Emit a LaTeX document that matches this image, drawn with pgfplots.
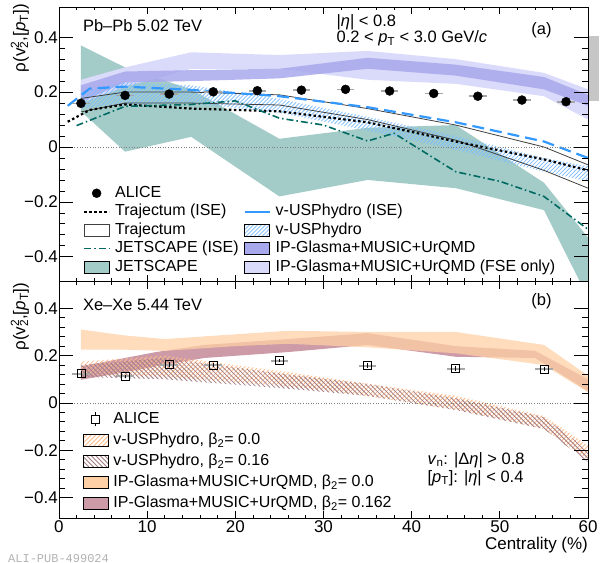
\documentclass[border=0pt]{standalone}
\usepackage{fontspec}
\setmainfont{Liberation Sans}
\setmonofont{Liberation Mono}
\usepackage{pgfplots}
\pgfplotsset{compat=1.18}
\usetikzlibrary{patterns}

\definecolor{jsfill}{RGB}{163,204,201}
\definecolor{jsline}{RGB}{0,105,98}
\definecolor{vusp}{RGB}{51,153,255}
\definecolor{vusph}{RGB}{125,188,255}
\definecolor{ipg}{RGB}{168,168,236}
\definecolor{ipgfse}{RGB}{218,218,250}
\definecolor{orng}{RGB}{255,208,165}
\definecolor{mauve}{RGB}{205,155,168}
\definecolor{orngh}{RGB}{255,188,140}
\definecolor{brownh}{RGB}{165,125,130}

% inherently coloured hatch patterns
\pgfdeclarepatterninherentlycolored{hVU}{\pgfqpoint{-1pt}{-1pt}}{\pgfqpoint{5pt}{5pt}}{\pgfqpoint{4pt}{4pt}}{%
  \pgfsetstrokecolor{vusph}\pgfsetlinewidth{0.7pt}%
  \pgfpathmoveto{\pgfqpoint{-0.1pt}{-0.1pt}}\pgfpathlineto{\pgfqpoint{4.1pt}{4.1pt}}\pgfusepath{stroke}}
\pgfdeclarepatterninherentlycolored{hOR}{\pgfqpoint{-1pt}{-1pt}}{\pgfqpoint{5.5pt}{5.5pt}}{\pgfqpoint{4.5pt}{4.5pt}}{%
  \pgfsetstrokecolor{orngh}\pgfsetlinewidth{0.8pt}%
  \pgfpathmoveto{\pgfqpoint{-0.1pt}{-0.1pt}}\pgfpathlineto{\pgfqpoint{4.6pt}{4.6pt}}\pgfusepath{stroke}}
\pgfdeclarepatterninherentlycolored{hBR}{\pgfqpoint{-1pt}{-1pt}}{\pgfqpoint{5.5pt}{5.5pt}}{\pgfqpoint{4.5pt}{4.5pt}}{%
  \pgfsetstrokecolor{brownh}\pgfsetlinewidth{0.8pt}%
  \pgfpathmoveto{\pgfqpoint{-0.1pt}{4.6pt}}\pgfpathlineto{\pgfqpoint{4.6pt}{-0.1pt}}\pgfusepath{stroke}}

\pgfplotsset{
 mystyle/.style={
   width=530pt, scale only axis, xmin=0, xmax=60,
   xtick={0,10,...,60}, minor x tick num=4,
   ytick={-0.4,-0.2,0,0.2,0.4}, minor y tick num=4,
   yticklabels={−0.4,−0.2,0,0.2,0.4},
   tick align=inside, major tick length=10pt, minor tick length=5pt,
   xtick style={/pgfplots/major tick length=7pt,/pgfplots/minor tick length=3.5pt},
   ytick style={/pgfplots/major tick length=14pt,/pgfplots/minor tick length=6pt},
   axis line style={line width=0.8pt},
   every tick/.style={black, line width=0.8pt},
   ticklabel style={font=\fontsize{17}{17}\selectfont},
   yticklabel style={inner sep=1pt},
   xticklabel style={inner sep=2.5pt},
   axis on top,
   legend cell align=left,
 },
 band/.style={legend image code/.code={\path[#1] (0pt,-6pt) rectangle (25pt,6pt);}},
 linelg/.style={legend image code/.code={\draw[#1] (0pt,0pt) -- (25pt,0pt);}},
}

\begin{document}
\begin{tikzpicture}
\begin{scope}[x=1pt,y=-1pt,shift={(-59pt,519pt)}]
\useasboundingbox (0,0) rectangle (600,557);
\end{scope}

% ---------------- top panel ----------------
\begin{axis}[mystyle,
  at={(0pt,237pt)}, anchor=south west, height=275pt,
  ymin=-0.49, ymax=0.51, xticklabels={},
  legend columns=2,
  legend style={at={(0.0396,0.356)}, anchor=north west, draw=none, fill=none,
    font=\fontsize{16}{18}\selectfont, row sep=4pt,
    nodes={inner sep=0pt, text height=11.5pt, text depth=3pt},
    /tikz/every odd column/.append style={column sep=5pt},
    /tikz/every even column/.append style={column sep=5pt}},
]
% JETSCAPE band
\addplot[forget plot, draw=none, fill=jsfill] coordinates {
 (2.5,0.37) (7.5,0.29) (15,0.21) (25,0.03) (35,0.07) (45,0.08) (55,-0.13) (60,-0.33) (65,-0.55)
 (65,-0.9) (60,-0.55) (55,-0.23) (45,-0.15) (35,-0.12) (25,-0.18) (15,0.037) (7.5,-0.017) (2.5,0.13)} -- cycle;
% IP-Glasma FSE only
\addplot[forget plot, draw=none, fill=ipgfse] coordinates {
 (2.5,0.245) (7.5,0.29) (15,0.345) (25,0.335) (35,0.35) (45,0.32) (55,0.27) (60,0.21)
 (60,0.10) (55,0.185) (45,0.23) (35,0.245) (25,0.285) (15,0.285) (7.5,0.22) (2.5,0.16)} -- cycle;
% IP-Glasma
\addplot[forget plot, draw=none, fill=ipg, fill opacity=0.85] coordinates {
 (2.5,0.225) (7.5,0.275) (15,0.28) (25,0.285) (35,0.325) (45,0.30) (55,0.255) (60,0.19)
 (60,0.15) (55,0.21) (45,0.26) (35,0.285) (25,0.25) (15,0.24) (7.5,0.235) (2.5,0.165)} -- cycle;
% v-USPhydro
\addplot[forget plot, draw=none, pattern=hVU] coordinates {
 (2.5,0.20) (7.5,0.235) (15,0.225) (25,0.175) (35,0.11) (45,0.04) (55,-0.04) (60,-0.07)
 (60,-0.125) (55,-0.09) (45,-0.01) (35,0.06) (25,0.125) (15,0.16) (7.5,0.155) (2.5,0.14)} -- cycle;
% Trajectum band outline
\addplot[forget plot, black!75, line width=0.8pt] coordinates {
 (2.5,0.177) (7.5,0.2) (15,0.2) (25,0.19) (35,0.14) (45,0.08) (55,0.0) (60,-0.065)};
\addplot[forget plot, black!75, line width=0.8pt] coordinates {
 (2.5,0.128) (7.5,0.16) (15,0.16) (25,0.153) (35,0.1) (45,0.025) (55,-0.085) (60,-0.15)};
% Trajectum (ISE)
\addplot[forget plot, black, line width=2.2pt, dash pattern=on 2.5pt off 2.5pt] coordinates {
 (1,0.092) (3.5,0.135) (7.5,0.155) (15,0.14) (25,0.13) (35,0.09) (45,0.02) (55,-0.045) (60,-0.085)};
% JETSCAPE (ISE)
\addplot[forget plot, jsline, line width=1.6pt, dash pattern=on 7pt off 3pt on 1.5pt off 3pt] coordinates {
 (2,0.078) (7.5,0.148) (15,0.155) (20,0.168) (25,0.105) (30,0.08) (35,0.022) (38,0.05) (45,-0.09) (50,-0.125) (55,-0.18) (60,-0.3)};
% v-USPhydro (ISE)
\addplot[forget plot, vusp, line width=2.2pt, dash pattern=on 12pt off 6pt] coordinates {
 (1,0.15) (3.5,0.213) (7.5,0.22) (15,0.208) (25,0.185) (35,0.145) (45,0.09) (55,0.02) (60,-0.04)};
% zero line
\addplot[forget plot, gray, dotted, line width=0.6pt] coordinates {(0,0) (60,0)};
% ALICE
\addplot[forget plot, only marks, mark=*, mark size=4.5pt, black,
  error bars/.cd, x dir=both, x explicit, error mark=none,
  error bar style={draw=gray!70, line width=1.6pt}] coordinates {
 (2.5,0.159) +- (1,0) (7.5,0.188) +- (1,0) (12.5,0.193) +- (1,0) (17.5,0.201) +- (1,0)
 (22.5,0.205) +- (1,0) (27.5,0.207) +- (1,0) (32.5,0.210) +- (1,0) (37.5,0.204) +- (1,0)
 (42.5,0.195) +- (1,0) (47.5,0.185) +- (1,0) (52.5,0.171) +- (1,0) (57.5,0.165) +- (1,0)};
% legend
\addlegendimage{legend image code/.code={\fill[black] (12.5pt,0pt) circle (4.5pt);}}
\addlegendentry{ALICE}
\addlegendimage{empty legend}
\addlegendentry{}
\addlegendimage{linelg={black, line width=2.2pt, dash pattern=on 2.5pt off 2.5pt}}
\addlegendentry{Trajectum (ISE)}
\addlegendimage{linelg={vusp, line width=2.2pt}}
\addlegendentry{v-USPhydro (ISE)}
\addlegendimage{band={draw=black!75, line width=0.8pt}}
\addlegendentry{Trajectum}
\addlegendimage{band={pattern=hVU}}
\addlegendentry{v-USPhydro}
\addlegendimage{linelg={jsline, line width=1.6pt, dash pattern=on 7pt off 3pt on 1.5pt off 3pt}}
\addlegendentry{JETSCAPE (ISE)}
\addlegendimage{band={fill=ipg}}
\addlegendentry{IP-Glasma+MUSIC+UrQMD}
\addlegendimage{band={fill=jsfill}}
\addlegendentry{JETSCAPE}
\addlegendimage{band={fill=ipgfse}}
\addlegendentry{IP-Glasma+MUSIC+UrQMD (FSE only)}
\end{axis}

% ---------------- bottom panel ----------------
\begin{axis}[mystyle,
  at={(0pt,0pt)}, anchor=south west, height=237pt,
  ymin=-0.487, ymax=0.513,
  xticklabels={0,10,20,30,40,50,60},
  legend style={at={(0.0396,0.458)}, anchor=north west, draw=none, fill=none,
    font=\fontsize{16}{18}\selectfont, row sep=6.5pt,
    nodes={inner sep=0pt, text height=11.5pt, text depth=3pt},
    /tikz/every odd column/.append style={column sep=5pt}},
]
% IP-Glasma beta 0.162
\addplot[forget plot, draw=none, fill=mauve] coordinates {
 (2.5,0.155) (7.5,0.19) (11,0.215) (16.5,0.245) (26,0.27) (35,0.295) (45,0.24) (54,0.22) (60,0.10)
 (60,0.05) (54,0.19) (45,0.195) (35,0.245) (26,0.215) (16.5,0.19) (11,0.155) (7.5,0.13) (2.5,0.098)} -- cycle;
% IP-Glasma beta 0
\addplot[forget plot, draw=none, fill=orng, fill opacity=0.75] coordinates {
 (2.5,0.31) (7.5,0.285) (12,0.27) (20,0.29) (26,0.305) (35,0.30) (45,0.30) (55,0.245) (60,0.115)
 (60,0.045) (55,0.16) (45,0.21) (35,0.235) (26,0.25) (20,0.24) (12,0.22) (7.5,0.225) (2.5,0.225)} -- cycle;
% v-USPhydro beta 0
\addplot[forget plot, draw=none, pattern=hOR] coordinates {
 (2.5,0.175) (12,0.20) (26,0.13) (30,0.108) (45,0.03) (55,-0.055) (60,-0.18)
 (60,-0.24) (55,-0.11) (45,-0.028) (30,0.056) (26,0.07) (12,0.112) (2.5,0.12)} -- cycle;
% v-USPhydro beta 0.16
\addplot[forget plot, draw=none, pattern=hBR] coordinates {
 (2.5,0.16) (12,0.19) (26,0.12) (35,0.08) (45,0.02) (55,-0.06) (60,-0.2)
 (60,-0.25) (55,-0.11) (45,-0.03) (35,0.03) (26,0.06) (12,0.10) (2.5,0.11)} -- cycle;
% zero line
\addplot[forget plot, gray, dotted, line width=0.6pt] coordinates {(0,0) (60,0)};
% ALICE Xe-Xe
\addplot[forget plot, draw=none, mark=none,
  error bars/.cd, x dir=both, x explicit, error mark=none,
  error bar style={draw=gray!70, line width=2pt}] coordinates {
 (2.5,0.123) +- (1,0) (7.5,0.112) +- (1,0) (12.5,0.161) +- (1,0) (17.5,0.160) +- (1,0)
 (25,0.179) +- (1,0) (35,0.158) +- (1,0) (45,0.144) +- (1,0) (55,0.143) +- (1,0)};
\addplot[forget plot, only marks, mark=square, mark size=4pt, black, mark options={line width=0.8pt},
  error bars/.cd, y dir=both, y explicit, error mark=none,
  error bar style={black, line width=0.6pt}] coordinates {
 (2.5,0.123) +- (0,0.012) (7.5,0.112) +- (0,0.008) (12.5,0.161) +- (0,0.01) (17.5,0.160) +- (0,0.01)
 (25,0.179) +- (0,0.008) (35,0.158) +- (0,0.01) (45,0.144) +- (0,0.01) (55,0.143) +- (0,0.01)};
% legend
\addlegendimage{legend image code/.code={\draw[black, line width=0.8pt] (8.5pt,-4pt) rectangle (16.5pt,4pt); \draw[black, line width=0.6pt] (12.5pt,-7pt)--(12.5pt,-4pt) (12.5pt,4pt)--(12.5pt,7pt);}}
\addlegendentry{ALICE}
\addlegendimage{band={pattern=hOR}}
\addlegendentry{v-USPhydro, β\textsubscript{2}= 0.0}
\addlegendimage{band={pattern=hBR}}
\addlegendentry{v-USPhydro, β\textsubscript{2}= 0.16}
\addlegendimage{band={fill=orng}}
\addlegendentry{IP-Glasma+MUSIC+UrQMD, β\textsubscript{2}= 0.0}
\addlegendimage{band={fill=mauve}}
\addlegendentry{IP-Glasma+MUSIC+UrQMD, β\textsubscript{2}= 0.162}
\end{axis}

% ---------------- texts ----------------
\begin{scope}[x=1pt,y=-1pt,shift={(-59pt,519pt)}, every node/.style={font=\fontsize{16.5}{18}\selectfont, inner sep=0pt}]
\node[anchor=base west] at (83,31.5) {Pb–Pb 5.02 TeV};
\node[anchor=base west] at (337,27) {|\textit{η}| < 0.8};
\node[anchor=base west] at (337,43) {0.2 < \textit{p}\textsubscript{T} < 3.0 GeV/\textit{c}};
\node[anchor=base west] at (532,35) {(a)};
\node[anchor=base west] at (83,311.5) {Xe–Xe 5.44 TeV};
\node[anchor=base west] at (532,306) {(b)};
\node[anchor=base west] at (428,465) {\textit{v}\textsubscript{n}: |Δ\textit{η}| > 0.8};
\node[anchor=base west] at (428,483) {[\textit{p}\textsubscript{T}]: |\textit{η}| < 0.4};
\node[anchor=base east, font=\fontsize{17}{18}\selectfont] at (589,550) {Centrality (\%)};
\node[rotate=90, anchor=east, font=\fontsize{17}{18}\selectfont] at (20,4) {ρ(v\rlap{\textsuperscript{2}}\textsubscript{2},[\textit{p}\textsubscript{T}])};
\node[rotate=90, anchor=east, font=\fontsize{17}{18}\selectfont] at (20,283) {ρ(v\rlap{\textsuperscript{2}}\textsubscript{2},[\textit{p}\textsubscript{T}])};
\node[anchor=base west, font=\ttfamily\fontsize{12}{12}\selectfont, text=gray!60] at (8,563) {ALI-PUB-499024};
\fill[gray!45] (590,36) rectangle (600,101);
\end{scope}
\end{tikzpicture}
\end{document}
